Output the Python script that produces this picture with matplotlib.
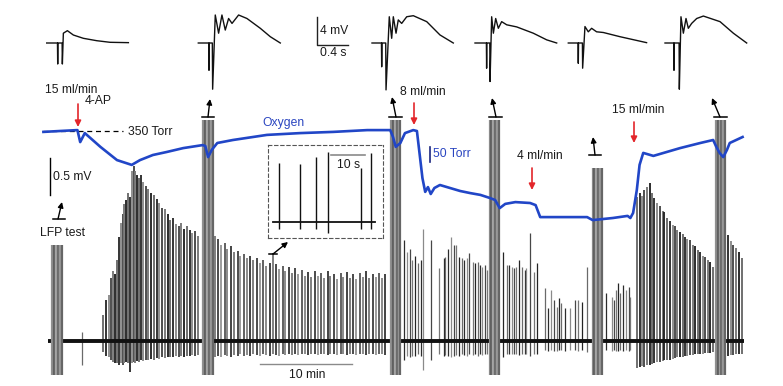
import matplotlib
matplotlib.use('Agg')
import matplotlib.pyplot as plt

plt.rcParams['font.family'] = ['Liberation Sans', 'DejaVu Sans']
FS = 8.7
W, H = 783, 386

# ------------------------------------------------------------------ data
# LFP spikes: time (min), upward amplitude (mV), downward amplitude (mV)
burst1_t = [6.0, 6.3, 6.6, 6.9, 7.1, 7.3, 7.5, 7.7, 7.9, 8.1, 8.3, 8.5, 8.7, 8.9, 9.1, 9.3, 9.5, 9.7, 9.9, 10.1,
            10.3, 10.6, 10.9, 11.2, 11.5, 11.8, 12.1, 12.4, 12.7, 13.0, 13.3, 13.6, 13.9, 14.2, 14.5, 14.8, 15.1,
            15.4, 15.7, 16.0, 16.3]
burst1_up = [0.35, 0.55, 0.62, 0.85, 0.95, 0.9, 1.1, 1.4, 1.6, 1.72, 1.85, 1.9, 2.0, 1.95, 2.3, 2.36, 2.3, 2.25,
             2.2, 2.24, 2.15, 2.1, 2.05, 2.0, 1.97, 1.92, 1.86, 1.8, 1.78, 1.72, 1.64, 1.66, 1.58, 1.56, 1.6, 1.52,
             1.55, 1.5, 1.46, 1.48, 1.42]
burst1_down = [0.15, 0.2, 0.22, 0.25, 0.28, 0.3, 0.3, 0.32, 0.3, 0.33, 0.3, 0.28, 0.3, 0.42, 0.3, 0.28, 0.3, 0.27,
               0.28, 0.26, 0.27, 0.25, 0.26, 0.24, 0.25, 0.23, 0.24, 0.22, 0.23, 0.22, 0.21, 0.22, 0.2, 0.22, 0.2,
               0.21, 0.2, 0.2, 0.19, 0.2, 0.19]

tail1_t = [18.2, 18.5, 18.8, 19.2, 19.5, 19.9, 20.2, 20.6, 20.9, 21.3, 21.6, 22.0, 22.3, 22.7, 23.0, 23.4, 23.7,
           24.1, 24.5, 24.8, 25.1, 25.5, 25.8, 26.2, 26.5, 26.9, 27.2, 27.6, 27.9, 28.3, 28.6, 29.0, 29.3, 29.7,
           30.0, 30.4, 30.7, 31.1, 31.4, 31.8, 32.1, 32.5, 32.8, 33.2, 33.5, 33.9, 34.2, 34.6, 34.9, 35.3, 35.6,
           36.0, 36.3, 36.6]
tail1_up = [1.42, 1.38, 1.3, 1.33, 1.25, 1.28, 1.2, 1.22, 1.15, 1.18, 1.12, 1.15, 1.1, 1.12, 1.05, 1.1, 1.02, 1.06,
            1.19, 1.04, 0.97, 1.02, 0.95, 1.0, 0.92, 0.98, 0.9, 0.96, 0.88, 0.93, 0.86, 0.95, 0.88, 0.92, 0.85, 0.95,
            0.88, 0.9, 0.84, 0.92, 0.86, 0.93, 0.85, 0.9, 0.84, 0.92, 0.86, 0.94, 0.85, 0.9, 0.86, 0.92, 0.85, 0.9]
tail1_down = [0.22, 0.2, 0.21, 0.19, 0.2, 0.21, 0.19, 0.2, 0.18, 0.2, 0.19, 0.2, 0.18, 0.19, 0.2, 0.18, 0.19, 0.2,
              0.18, 0.19, 0.2, 0.18, 0.19, 0.17, 0.19, 0.18, 0.19, 0.17, 0.18, 0.19, 0.17, 0.18, 0.19, 0.17, 0.18,
              0.19, 0.17, 0.18, 0.19, 0.17, 0.18, 0.19, 0.17, 0.18, 0.19, 0.17, 0.18, 0.19, 0.17, 0.18, 0.19, 0.17,
              0.18, 0.19]

mid_t = [3.7, 38.7, 39.0, 39.3, 39.6, 39.9, 40.2, 40.5, 40.8, 41.6,
         42.5, 43.0, 43.2, 43.5, 43.8, 44.1, 44.3, 44.7, 45.0, 45.2, 45.5, 45.8, 46.2, 46.4, 46.7, 47.0, 47.2, 47.5, 47.7,
         49.5, 49.9, 50.1, 50.4, 50.7, 50.9, 51.2, 51.5, 51.8, 52.0, 52.4, 52.8, 53.1,
         54.0, 54.4, 54.7, 55.0, 55.3, 55.5, 55.8, 56.2, 56.7, 57.3, 57.6, 58.0, 58.6,
         60.7, 61.3, 61.5, 61.7, 62.0, 62.2, 62.5, 62.8, 63.1, 63.3]
mid_up = [0.12, 1.36, 1.2, 1.25, 1.1, 1.15, 1.05, 1.1, 1.51, 1.36,
          0.99, 1.12, 1.14, 1.24, 1.41, 1.3, 1.3, 1.14, 1.12, 1.1, 1.12, 1.19, 1.07, 1.05, 1.07, 1.03, 1.0, 1.03, 0.96,
          1.2, 1.03, 1.03, 1.0, 0.99, 1.0, 1.09, 1.0, 0.96, 0.99, 1.46, 0.93, 1.05,
          0.72, 0.45, 0.69, 0.55, 0.46, 0.58, 0.51, 0.45, 0.45, 0.55, 0.55, 0.53, 1.0,
          0.65, 0.6, 0.55, 0.69, 0.78, 0.65, 0.76, 0.69, 0.73, 0.6]
mid_down = [0.33, 0.25, 0.2, 0.22, 0.2, 0.2, 0.18, 0.2, 0.39, 0.26,
            0.18, 0.2, 0.19, 0.2, 0.22, 0.2, 0.19, 0.2, 0.18, 0.19, 0.2, 0.18, 0.19, 0.18, 0.2, 0.18, 0.19, 0.18, 0.17,
            0.22, 0.18, 0.17, 0.18, 0.17, 0.18, 0.19, 0.17, 0.18, 0.17, 0.2, 0.17, 0.18,
            0.12, 0.14, 0.12, 0.13, 0.14, 0.12, 0.12, 0.13, 0.12, 0.12, 0.13, 0.12, 0.15,
            0.12, 0.13, 0.12, 0.13, 0.14, 0.12, 0.13, 0.12, 0.13, 0.12]

burst2_t = [64.0, 64.3, 64.6, 64.8, 65.1, 65.4, 65.7, 65.9, 66.2, 66.5, 66.8, 67.0, 67.3, 67.6, 67.9, 68.1, 68.4,
            68.7, 69.0, 69.2, 69.5, 69.8, 70.1, 70.3, 70.6, 70.9, 71.2, 71.4, 71.7, 72.0, 72.3,
            73.9, 74.2, 74.5, 74.8, 75.1, 75.4]
burst2_up = [1.95, 2.0, 1.96, 2.04, 2.08, 2.14, 2.0, 1.93, 1.86, 1.82, 1.76, 1.74, 1.66, 1.62, 1.57, 1.55, 1.5,
             1.47, 1.44, 1.41, 1.38, 1.36, 1.3, 1.28, 1.23, 1.2, 1.15, 1.14, 1.1, 1.07, 1.0,
             1.43, 1.35, 1.3, 1.26, 1.2, 1.12]
burst2_down = [0.36, 0.35, 0.34, 0.35, 0.33, 0.32, 0.31, 0.3, 0.29, 0.28, 0.27, 0.26, 0.25, 0.25, 0.24, 0.23, 0.22,
               0.22, 0.21, 0.2, 0.2, 0.19, 0.19, 0.18, 0.18, 0.17, 0.17, 0.16, 0.16, 0.16, 0.15,
               0.2, 0.19, 0.19, 0.18, 0.18, 0.17]

lfp_start_min, lfp_end_min = 0.0, 75.6

# LFP test stimulation trains: centre time (min), artefact top (mV), bottom (mV)
stim_center_min = [0.98, 17.4, 37.8, 48.5, 59.7, 73.1]
stim_top_mv = [1.3, 2.99, 2.99, 2.99, 2.34, 2.99]
stim_bottom_mv = -0.46
stim_offsets_min = [-0.5, -0.3, -0.1, 0.1, 0.3, 0.5]

# Oxygen partial pressure (Torr) vs time (min)
o2_t = [-0.5, 1.3, 3.2, 3.5, 4.0, 5.7, 7.5, 9.1, 10.0, 11.4, 12.9, 14.7, 16.8, 17.1, 17.4, 17.8, 18.4, 20.1, 23.8,
        27.4, 31.0, 34.7, 37.2, 37.5, 37.8, 38.3, 38.8, 39.7, 40.1, 40.7, 41.0, 41.3, 41.6, 42.0, 42.6, 43.7, 44.8,
        45.9, 47.0, 48.0, 48.6, 49.1, 49.7, 50.8, 52.4, 53.0, 53.5, 55.7, 58.6, 59.2, 61.4, 63.0, 63.3, 63.6, 64.0,
        64.3, 64.7, 65.8, 68.7, 70.9, 72.3, 72.6, 73.0, 73.4, 73.8, 74.1, 75.5]
o2_torr = [347, 350, 353, 313, 343, 297, 253, 237, 253, 270, 280, 293, 303, 300, 263, 287, 310, 320, 337,
           343, 347, 353, 353, 330, 297, 310, 343, 353, 350, 193, 147, 163, 140, 160, 170, 160, 150,
           143, 137, 127, 120, 93, 107, 113, 110, 103, 63, 63, 63, 53, 60, 67, 60, 77, 153,
           237, 277, 267, 293, 310, 320, 300, 277, 263, 287, 310, 330]
o2_ref_torr = 350

# Evoked field potentials (ms, mV)
evk1_ms = [0, 139, 142, 145, 199, 202, 215, 267, 344, 473, 645, 817, 1054]
evk1_mv = [0, 0, -3.0, 0, 0, -3.0, 1.4, 1.76, 1.14, 0.67, 0.33, 0.1, 0.05]
evk2_ms = [0, 135, 138, 141, 181, 185, 219, 262, 305, 348, 391, 435, 520, 628, 800, 929, 1058]
evk2_mv = [0, 0, -3.9, 0, 0, -6.6, 4.0, 1.4, 4.0, 1.85, 3.5, 2.8, 4.0, 3.5, 2.1, 0.9, 0]
evk3_ms = [0, 122, 125, 129, 177, 181, 223, 254, 275, 310, 339, 383, 448, 533, 706, 877, 1049]
evk3_mv = [0, 0, -3.4, 0, 0, -6.7, 3.75, 0.67, 3.75, 1.4, 3.3, 2.8, 3.75, 3.9, 3.05, 1.15, 0]
evk4_ms = [0, 147, 150, 153, 191, 194, 215, 237, 267, 301, 344, 409, 538, 752, 925, 1054]
evk4_mv = [0, 0, -3.6, 0, 0, -5.5, 3.75, 1.4, 3.5, 2.1, 3.05, 2.6, 2.3, 1.4, 0.45, 0]
evk5_ms = [0, 126, 129, 132, 182, 185, 215, 258, 301, 365, 452, 667, 1010]
evk5_mv = [0, 0, -2.9, 0, 0, -3.6, 2.35, 1.6, 2.1, 1.6, 1.5, 0.9, 0.05]
evk6_ms = [0, 113, 116, 119, 182, 185, 206, 237, 271, 301, 344, 409, 495, 710, 882, 1054]
evk6_mv = [0, 0, -3.9, 0, 0, -6.6, 3.75, 1.4, 3.5, 2.1, 2.8, 3.5, 3.85, 3.05, 1.4, 0]

# Inset: expanded LFP (s, mV)
inset_start_s, inset_end_s = 1.5, 31.5
inset_spk_s = [3.2, 9.4, 14.1, 17.6, 27.4, 30.3]
inset_spk_up = [0.80, 0.78, 0.88, 0.95, 0.73, 0.93]
inset_spk_down = [0.10, 0.09, 0.09, 0.15, 0.10, 0.09]

# ------------------------------------------------------------------ layout (pixels)
X0_PX, PX_PER_MIN = 48, 9.2
BASE_PX, PX_PER_MV = 341, 74
O2_REF_PX, PX_PER_TORR = 131, 0.3
TOP_BASE_PX, TOP_PX_PER_MV, TOP_PX_PER_S = 43, 7.0, 77.5
evk_x0_px = [46.7, 198.3, 372, 475, 568.3, 665]
INSET_BOX = (268, 145, 383, 238)  # x0, y0, x1, y1
INSET_BASE_PX, INSET_PX_PER_S = 222, 3.4

fig = plt.figure(figsize=(W / 100, H / 100), dpi=100)

# main LFP axes (min, mV)
ax = fig.add_axes([0, 0, 1, 1])
ax.set_xlim(-X0_PX / PX_PER_MIN, (W - X0_PX) / PX_PER_MIN)
ax.set_ylim(-(H - BASE_PX) / PX_PER_MV, BASE_PX / PX_PER_MV)
ax.axis('off')

spike_cols = ['#6a6a6a', '#2c2c2c', '#8a8a8a', '#474747', '#777777', '#242424']
for ts, ups, dns, lw in [(burst1_t, burst1_up, burst1_down, 1.35), (tail1_t, tail1_up, tail1_down, 1.2),
                         (mid_t, mid_up, mid_down, 0.9), (burst2_t, burst2_up, burst2_down, 1.35)]:
    cols = [spike_cols[i % len(spike_cols)] for i in range(len(ts))]
    ax.vlines(ts, [-d for d in dns], ups, colors=cols, lw=lw, zorder=2)

ax.plot([lfp_start_min, lfp_end_min], [0, 0], color='#111111', lw=2.8, solid_capstyle='butt', zorder=3)

stim_cols = ['#909090', '#606060', '#a4a4a4', '#6c6c6c', '#989898', '#666666']
for c, top in zip(stim_center_min, stim_top_mv):
    for off, col in zip(stim_offsets_min, stim_cols):
        ax.vlines(c + off, stim_bottom_mv, top, colors=col, lw=1.6, zorder=4)

# scale bars on main axes
sb_t = (50 - X0_PX) / PX_PER_MIN
sb_v0 = (BASE_PX - 195) / PX_PER_MV
ax.plot([sb_t, sb_t], [sb_v0, sb_v0 + 0.5], color='black', lw=1.0)
tb_t0 = (260 - X0_PX) / PX_PER_MIN
tb_v = (BASE_PX - 364) / PX_PER_MV
ax.plot([tb_t0, tb_t0 + 10], [tb_v, tb_v], color='#8a8a8a', lw=1.0)

# oxygen axes (min, Torr)
ax2 = fig.add_axes([0, 0, 1, 1])
ax2.set_xlim(ax.get_xlim())
ax2.set_ylim(o2_ref_torr - (H - O2_REF_PX) / PX_PER_TORR, o2_ref_torr + O2_REF_PX / PX_PER_TORR)
ax2.axis('off')
ax2.plot(o2_t, o2_torr, color='#2146c7', lw=1.9, solid_joinstyle='round', zorder=5)
dash_t1 = (123 - X0_PX) / PX_PER_MIN
ax2.plot([o2_t[0], dash_t1], [o2_ref_torr, o2_ref_torr], color='black', lw=0.9, ls=(0, (4, 3)))
ob_t = (430 - X0_PX) / PX_PER_MIN
ob_T0 = o2_ref_torr - (162 - O2_REF_PX) / PX_PER_TORR
ax2.plot([ob_t, ob_t], [ob_T0, ob_T0 + 50], color='#1a2580', lw=1.2)

# evoked responses axes (ms, mV)
ax3 = fig.add_axes([0, 0, 1, 1])
ms_per_px = 1000.0 / TOP_PX_PER_S
ax3.set_xlim(0, W * ms_per_px)
ax3.set_ylim(-(H - TOP_BASE_PX) / TOP_PX_PER_MV, TOP_BASE_PX / TOP_PX_PER_MV)
ax3.axis('off')
for x0, ts, vs in zip(evk_x0_px, [evk1_ms, evk2_ms, evk3_ms, evk4_ms, evk5_ms, evk6_ms],
                      [evk1_mv, evk2_mv, evk3_mv, evk4_mv, evk5_mv, evk6_mv]):
    ax3.plot([x0 * ms_per_px + t for t in ts], vs, color='#111111', lw=1.0, solid_joinstyle='round')
sx = 317 * ms_per_px
sy = -(45 - TOP_BASE_PX) / TOP_PX_PER_MV
ax3.plot([sx, sx, sx + 400], [sy + 4, sy, sy], color='#222222', lw=1.0)

# inset axes (s, mV)
ix0, iy0, ix1, iy1 = INSET_BOX
axi = fig.add_axes([ix0 / W, 1 - iy1 / H, (ix1 - ix0) / W, (iy1 - iy0) / H])
axi.set_xlim(0, (ix1 - ix0) / INSET_PX_PER_S)
axi.set_ylim(-(iy1 - INSET_BASE_PX) / PX_PER_MV, (INSET_BASE_PX - iy0) / PX_PER_MV)
axi.set_xticks([]); axi.set_yticks([])
axi.patch.set_alpha(0)
for s in axi.spines.values():
    s.set_linestyle((0, (3, 2.5)))
    s.set_linewidth(0.8)
    s.set_color('#555555')
axi.plot([inset_start_s, inset_end_s], [0, 0], color='#111111', lw=1.3)
axi.vlines(inset_spk_s, [-d for d in inset_spk_down], inset_spk_up, colors='#111111', lw=1.0)
isb_y = (INSET_BASE_PX - 155) / PX_PER_MV
axi.plot([18.5, 28.5], [isb_y, isb_y], color='#8a8a8a', lw=1.2)

# overlay (pixel layout) for labels and arrows
ov = fig.add_axes([0, 0, 1, 1])
ov.set_xlim(0, W); ov.set_ylim(H, 0); ov.axis('off')

def label(x, y, s, color='#1a1a1a', ha='left'):
    ov.text(x, y, s, fontsize=FS, color=color, ha=ha, va='center')

label(45, 90, '15 ml/min')
label(85, 101, '4-AP')
label(128, 132, '350 Torr')
label(262, 123, 'Oxygen', color='#2a45c0')
label(53, 177, '0.5 mV')
label(40, 233, 'LFP test')
label(320, 31, '4 mV')
label(320, 53, '0.4 s')
label(400, 92, '8 ml/min')
label(433, 154, '50 Torr', color='#2a45c0')
label(517, 156, '4 ml/min')
label(612, 110, '15 ml/min')
label(307, 375, '10 min', ha='center')
label(337, 165, '10 s')

def arrow(x0, y0, x1, y1, color, lw=1.1, ms=8):
    ov.annotate('', xy=(x1, y1), xytext=(x0, y0),
                arrowprops=dict(arrowstyle='-|>', color=color, lw=lw, mutation_scale=ms,
                                shrinkA=0, shrinkB=0))

red = '#e3262b'
for x, y0, y1 in [(78, 104, 127), (414, 103, 125), (532, 168, 190), (634, 122, 143)]:
    arrow(x, y0, x, y1, red, lw=1.2, ms=9)

for (bx0, bx1, by), (ax0_, ay0_, ax1_, ay1_) in [
        ((53, 65, 219), (58, 219, 62, 202)),
        ((202, 214, 117), (208, 117, 210, 99)),
        ((389, 402, 117), (396, 117, 392, 97)),
        ((489, 502, 117), (496, 117, 492, 98)),
        ((589, 601, 155), (595, 155, 593, 137)),
        ((714, 727, 117), (720, 117, 712, 98)),
        ((269, 277, 254), (273, 254, 288, 242))]:
    ov.plot([bx0, bx1], [by, by], color='black', lw=1.1)
    arrow(ax0_, ay0_, ax1_, ay1_, 'black', lw=1.0, ms=8)

fig.savefig('out.png', dpi=100)
